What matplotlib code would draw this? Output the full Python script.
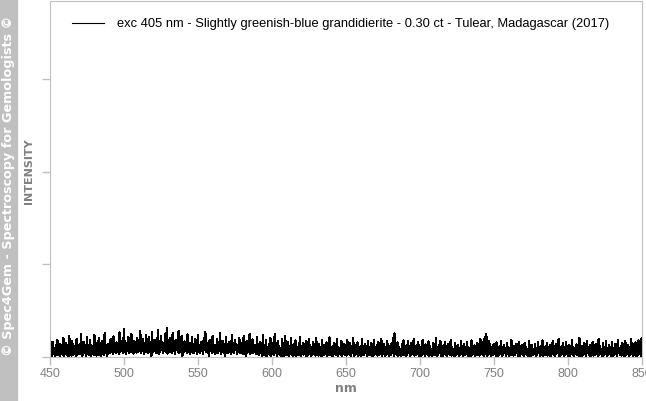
import numpy as np
import matplotlib
matplotlib.use("Agg")
import matplotlib.pyplot as plt

# wavelength range in nm, one reading pair per nm
wavelength_start = 450
wavelength_end = 850

# upper readings (arbitrary units), one per nm
intensity_high = [
    24, 6, 14, 3, 11, 16, 4, 12, 9, 18, 5, 13, 7, 20, 3, 15, 10, 6, 17, 8,
    12, 22, 5, 14, 9, 19, 4, 16, 11, 7, 21, 6, 13, 18, 3, 15, 10, 23, 8, 12,
    5, 17, 9, 20, 6, 14, 11, 24, 7, 16, 27, 8, 13, 19, 5, 22, 10, 15, 6, 18,
    12, 25, 7, 17, 10, 21, 4, 19, 13, 24, 8, 16, 11, 26, 6, 20, 14, 9, 22, 28,
    10, 18, 5, 23, 12, 16, 8, 25, 11, 20, 6, 15, 9, 22, 13, 7, 19, 4, 17, 11,
    21, 6, 14, 9, 18, 24, 5, 13, 16, 8, 20, 11, 4, 17, 10, 23, 7, 15, 12, 19,
    6, 14, 9, 21, 5, 16, 12, 8, 18, 4, 13, 20, 7, 15, 10, 22, 6, 17, 11, 9,
    19, 5, 14, 10, 21, 7, 16, 3, 12, 18, 8, 13, 22, 6, 15, 10, 4, 17, 11, 20,
    6, 14, 9, 18, 5, 12, 16, 3, 10, 19, 7, 13, 8, 15, 4, 17, 11, 6, 14, 9,
    18, 5, 12, 8, 16, 3, 11, 14, 7, 19, 4, 10, 13, 6, 17, 9, 5, 15, 8, 12,
    4, 16, 9, 13, 6, 18, 3, 11, 14, 7, 10, 17, 5, 12, 8, 15, 4, 13, 9, 16,
    6, 11, 14, 3, 17, 8, 12, 5, 15, 10, 7, 13, 18, 23, 6, 14, 9, 4, 12, 16,
    7, 10, 15, 5, 13, 8, 17, 3, 11, 14, 6, 9, 16, 4, 12, 7, 15, 10, 5, 13,
    8, 18, 4, 11, 15, 6, 10, 14, 3, 12, 7, 16, 9, 5, 13, 8, 11, 4, 15, 7,
    12, 6, 14, 9, 3, 16, 8, 11, 5, 13, 10, 17, 6, 14, 19, 22, 7, 15, 9, 4,
    12, 8, 14, 5, 10, 15, 3, 11, 7, 13, 9, 4, 16, 6, 10, 12, 5, 14, 8, 11,
    3, 13, 9, 6, 15, 7, 11, 4, 12, 8, 14, 5, 10, 16, 6, 9, 13, 3, 11, 7,
    15, 5, 12, 9, 17, 4, 10, 13, 6, 14, 8, 11, 3, 16, 9, 7, 12, 5, 18, 10,
    6, 13, 8, 15, 4, 11, 9, 14, 5, 12, 7, 17, 10, 3, 13, 8, 15, 6, 11, 9,
    14, 5, 12, 8, 16, 4, 10, 13, 7, 15, 6, 11, 9, 17, 5, 12, 14, 8, 16, 10,
    18,
]

# lower readings between them (half a nm later)
intensity_low = [
    2, 1, 3, 0, 2, 4, 1, 3, 2, 1, 3, 2, 0, 4, 1, 2, 3, 1, 2, 4,
    3, 1, 2, 4, 0, 3, 2, 1, 4, 2, 3, 1, 2, 5, 0, 3, 2, 4, 1, 3,
    4, 6, 3, 5, 4, 7, 3, 5, 6, 4, 5, 3, 6, 4, 7, 5, 3, 6, 4, 5,
    6, 4, 7, 3, 5, 8, 4, 6, 1, 5, 7, 4, 6, 3, 5, 7, 4, 6, 5, 3,
    5, 7, 4, 6, 3, 8, 5, 4, 6, 1, 5, 7, 4, 6, 3, 5, 7, 4, 6, 3,
    5, 4, 6, 3, 7, 5, 4, 1, 6, 4, 5, 3, 7, 4, 6, 3, 5, 4, 1, 6,
    4, 5, 3, 6, 4, 7, 3, 5, 4, 6, 3, 5, 0, 4, 6, 3, 5, 4, 7, 3,
    3, 2, 4, 1, 2, 3, 0, 4, 2, 1, 3, 2, 4, 1, 3, 2, 0, 3, 1, 4,
    2, 1, 3, 2, 0, 4, 1, 3, 2, 1, 3, 2, 4, 0, 2, 3, 1, 2, 4, 1,
    3, 1, 2, 0, 3, 2, 4, 1, 2, 3, 1, 0, 3, 2, 1, 4, 2, 1, 3, 2,
    1, 3, 2, 0, 4, 1, 2, 3, 1, 2, 0, 3, 2, 4, 1, 2, 3, 1, 0, 2,
    3, 1, 2, 4, 1, 3, 0, 2, 3, 1, 2, 4, 1, 3, 2, 0, 3, 1, 2, 3,
    1, 2, 4, 0, 2, 3, 1, 2, 3, 1, 0, 2, 4, 1, 3, 2, 1, 3, 0, 2,
    3, 1, 2, 4, 1, 0, 3, 2, 1, 3, 2, 1, 4, 0, 2, 3, 1, 2, 3, 1,
    2, 4, 1, 3, 0, 2, 3, 1, 2, 4, 1, 3, 2, 0, 3, 1, 2, 4, 1, 2,
    3, 1, 0, 2, 3, 1, 2, 4, 1, 3, 0, 2, 3, 1, 2, 4, 1, 0, 3, 2,
    1, 3, 2, 0, 4, 1, 2, 3, 1, 2, 4, 0, 3, 1, 2, 3, 1, 2, 0, 3,
    2, 1, 3, 4, 0, 2, 3, 1, 2, 3, 1, 0, 4, 2, 1, 3, 2, 1, 3, 0,
    2, 3, 1, 4, 2, 0, 3, 1, 2, 3, 1, 2, 4, 0, 2, 3, 1, 2, 3, 1,
    0, 2, 3, 1, 4, 2, 1, 3, 0, 2, 3, 1, 2, 4, 1, 3, 0, 2, 3, 1,
    2,
]

x_ticks = [450, 500, 550, 600, 650, 700, 750, 800, 850]
y_ticks = [0, 92.5, 185, 277.5]
legend_label = "exc 405 nm - Slightly greenish-blue grandidierite - 0.30 ct - Tulear, Madagascar (2017)"

# interleave the two readings into one trace
wl = np.arange(wavelength_start, wavelength_end + 1)
trace_x = np.column_stack([wl, wl + 0.5]).ravel()
trace_y = np.column_stack([intensity_high, intensity_low]).ravel()

plt.rcParams['font.family'] = ['Liberation Sans', 'DejaVu Sans']

fig = plt.figure(figsize=(6.46, 4.01), dpi=100)
ax = fig.add_axes([50 / 646, 44.5 / 401, 591.5 / 646, 355.5 / 401])

ax.plot(trace_x, trace_y, color='black', lw=1.0, antialiased=False, label=legend_label)

ax.set_xlim(450, 850)
ax.set_ylim(0, 355.5)
ax.set_xticks(x_ticks)
ax.set_yticks(y_ticks)
ax.set_yticklabels([])
ax.tick_params(colors='#c0c0c0', labelcolor='#808080', labelsize=9, length=6, width=1)
ax.tick_params(axis='x', pad=2)
for s in ax.spines.values():
    s.set_color('#c0c0c0')

ax.set_xlabel('nm', color='#808080', fontsize=9, fontweight='bold', labelpad=2,
              family='DejaVu Sans')
ax.set_ylabel('INTENSITY', color='#808080', fontsize=8, fontweight='bold',
              family='DejaVu Sans')
ax.yaxis.set_label_coords(-0.0275, 0.52)

leg = ax.legend(loc='upper left', frameon=False, fontsize=9.3, handlelength=2.5,
                handletextpad=1.0, borderpad=0, borderaxespad=0,
                bbox_to_anchor=(22 / 591.5, (356.5 - 18) / 355.5))
for h in leg.get_lines():
    h.set_linewidth(0.8)
    h.set_antialiased(True)

# gray side strip with copyright
fig.patches.append(plt.Rectangle((0, 0), 17 / 646, 1, transform=fig.transFigure,
                                 color='#c0c0c0', zorder=-1))
fig.text(8.5 / 646, 1 - 186 / 401, '© Spec4Gem - Spectroscopy for Gemologists ©',
         rotation=90, color='white', fontsize=9.2, fontweight='bold',
         family='DejaVu Sans', ha='center', va='center')

fig.savefig('out.png', dpi=100)
